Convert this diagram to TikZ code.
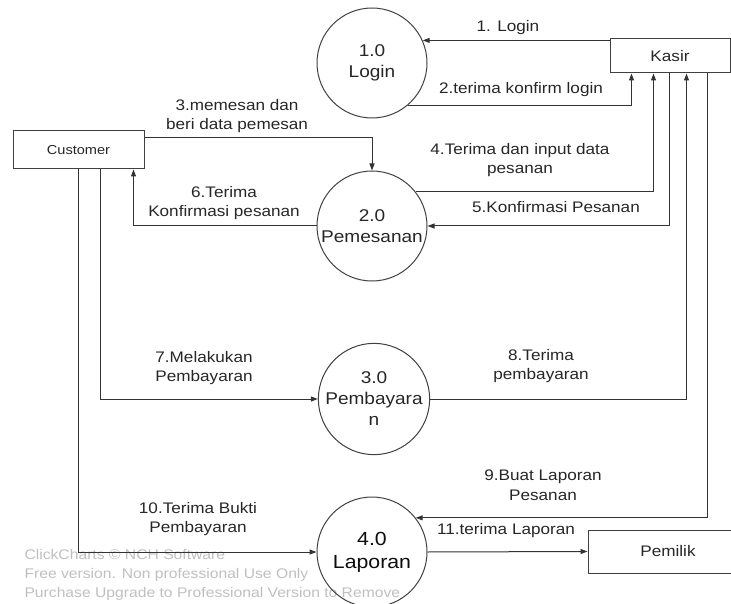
\documentclass[tikz,border=0pt]{standalone}
\usepackage{fontspec}
\setmainfont{Liberation Sans}[FakeStretch=1.12]
\usetikzlibrary{arrows.meta}

\begin{document}
\begin{tikzpicture}[x=1pt,y=-1pt,font=\fontsize{15.3}{19.5}\selectfont,text=black!85,proc/.style={circle, draw=black!75, line width=1pt, minimum size=110pt, inner sep=0pt, align=center, font=\fontsize{17}{21}\selectfont},ent/.style={draw=black!75, line width=1pt, inner sep=0pt, align=center},lbl/.style={align=center},flow/.style={draw=black!80, line width=1pt, -{Triangle[length=7pt,width=5pt]}},wm/.style={text=black!25, anchor=west, align=left, font=\fontsize{14}{19}\selectfont}]
\useasboundingbox (0,0) rectangle (731,604);
\clip (0,0) rectangle (731,604);
\node[wm] (wm) at (21,575) {ClickCharts \textcopyright\ NCH Software\\Free version. Non professional Use Only\\Purchase Upgrade to Professional Version to Remove};
\node[proc] (login) at (372,63) {1.0\\Login};\node[proc] (pesan) at (372,226) {2.0\\Pemesanan};
\node[proc, minimum size=108pt] (bayar) at (374,399) {3.0\\Pembayara\\n};\node[proc, text=black!95, font=\fontsize{19}{23}\selectfont] (lapor) at (372,552) {4.0\\Laporan};
\node[ent, minimum width=120pt, minimum height=34pt] (kasir) at (670,56) {Kasir};
\node[ent, minimum width=131pt, minimum height=38pt, font=\fontsize{13}{15}\selectfont] (customer) at (78.5,150) {Customer};
\node[ent, minimum width=160pt, minimum height=43pt] (pemilik) at (668,551.5) {Pemilik};
\node[lbl] (l1) at (508,28) {1. Login};\node[lbl] (l2) at (521,90) {2.terima konfirm login};
\node[lbl] (l3) at (237,116) {3.memesan dan\\beri data pemesan};\node[lbl] (l4) at (520,160) {4.Terima dan input data\\pesanan};
\node[lbl] (l5) at (556,207) {5.Konfirmasi Pesanan};\node[lbl] (l6) at (224,203) {6.Terima\\Konfirmasi pesanan};
\node[lbl] (l7) at (204,368) {7.Melakukan\\Pembayaran};\node[lbl] (l8) at (541,366) {8.Terima\\pembayaran};
\node[lbl] (l9) at (543,485) {9.Buat Laporan\\Pesanan};\node[lbl] (l10) at (198,519) {10.Terima Bukti\\Pembayaran};
\node[lbl] (l11) at (506,531) {11.terima Laporan};
\draw[flow] (kasir.west |- login.24) -- (login.24);
\draw[flow] (login.-50) -| ([xshift=22pt]kasir.south west);
\draw[flow] ([yshift=-7pt]customer.north east) -| (pesan.north);
\draw[flow] (pesan.38) -| ([xshift=44pt]kasir.south west);
\draw[flow] ([xshift=60pt]kasir.south west) |- (pesan.east);
\draw[flow] (pesan.west) -| ([xshift=-11pt]customer.south east);
\draw[flow] ([xshift=-44pt]customer.south east) |- (bayar.west);
\draw[flow] (bayar.east) -| ([xshift=77pt]kasir.south west);
\draw[flow] ([xshift=98pt]kasir.south west) |- (lapor.38);
\draw[flow] ([xshift=66pt]customer.south west) |- (lapor.west);
\draw[flow] (lapor.east) -- (pemilik.west);
\end{tikzpicture}
\end{document}
